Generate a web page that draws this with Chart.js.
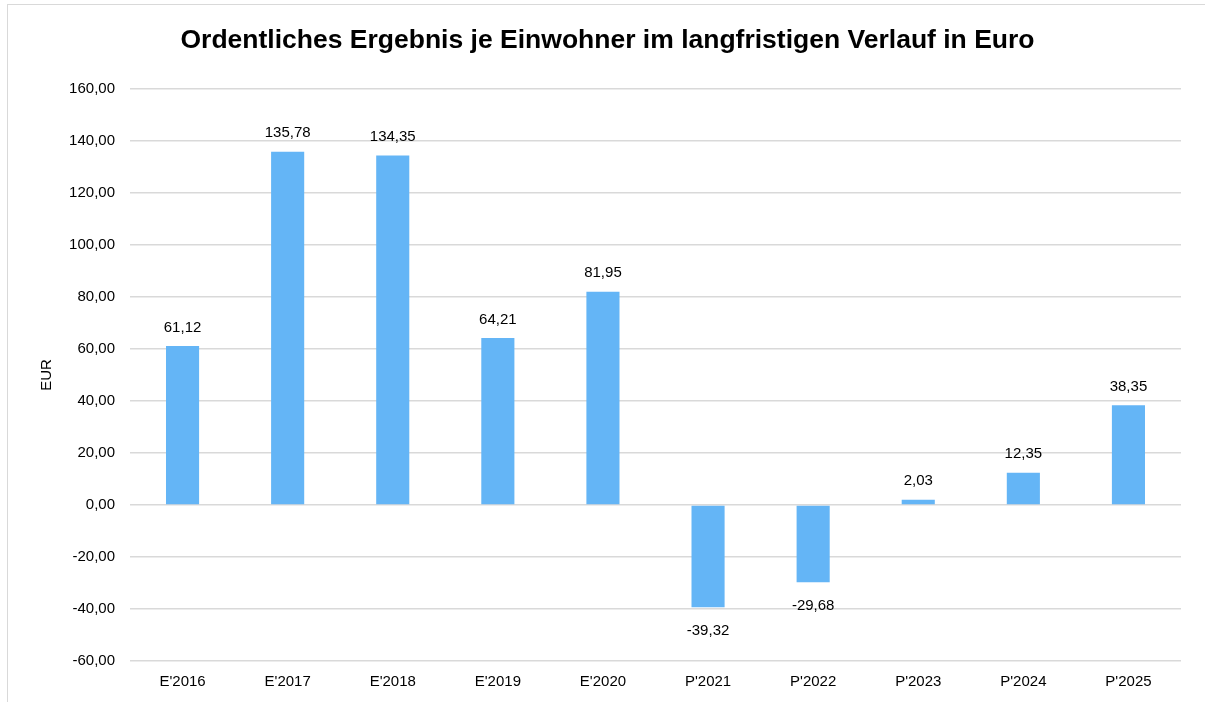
<!DOCTYPE html>
<html>
<head>
<meta charset="utf-8">
<script src="https://cdn.jsdelivr.net/npm/chart.js@4/dist/chart.umd.min.js"></script>
<style>
  html, body { margin: 0; padding: 0; background: #ffffff; overflow: hidden; }
  #frame { position: absolute; left: 7px; top: 4px; width: 1400px; height: 900px; border: 1px solid #d9d9d9; box-sizing: border-box; }
  #wrap { position: absolute; left: 0; top: 0; width: 1205px; height: 702px; }
</style>
</head>
<body>
<div id="frame"></div>
<div id="wrap"><canvas id="c" width="1205" height="702"></canvas></div>
<script>
const categories = ["E'2016", "E'2017", "E'2018", "E'2019", "E'2020", "P'2021", "P'2022", "P'2023", "P'2024", "P'2025"];
const values = [61.12, 135.78, 134.35, 64.21, 81.95, -39.32, -29.68, 2.03, 12.35, 38.35];
const titleText = "Ordentliches Ergebnis je Einwohner im langfristigen Verlauf in Euro";
const axisTitle = "EUR";
const yMin = -60, yMax = 160, yStep = 20;

function fmt(v) {
  return v.toFixed(2).replace('.', ',');
}

const FONT = "'Liberation Sans', Arial, sans-serif";

const valueLabels = {
  id: 'valueLabels',
  afterDatasetsDraw(chart) {
    const ctx = chart.ctx;
    const meta = chart.getDatasetMeta(0);
    ctx.save();
    ctx.font = "15px " + FONT;
    ctx.fillStyle = '#000000';
    ctx.textAlign = 'center';
    meta.data.forEach((bar, i) => {
      const v = values[i];
      if (v >= 0) {
        ctx.textBaseline = 'bottom';
        ctx.fillText(fmt(v), bar.x, bar.y - 11);
      } else {
        ctx.textBaseline = 'top';
        ctx.fillText(fmt(v), bar.x, bar.y + 16);
      }
    });
    ctx.restore();
  }
};

new Chart(document.getElementById('c'), {
  type: 'bar',
  data: {
    labels: categories,
    datasets: [{
      data: values,
      backgroundColor: '#64B5F6',
      borderWidth: 0,
      categoryPercentage: 1.0,
      barPercentage: 0.315
    }]
  },
  options: {
    responsive: false,
    animation: false,
    devicePixelRatio: 1,
    layout: { padding: { top: 10, right: 24, bottom: 0, left: 34 } },
    plugins: {
      legend: { display: false },
      tooltip: { enabled: false },
      title: {
        display: true,
        text: titleText,
        color: '#000000',
        font: { family: FONT, size: 26.5, weight: 'bold' },
        padding: { top: 15, bottom: 32 }
      }
    },
    scales: {
      x: {
        grid: { display: false, drawTicks: false },
        border: { display: false },
        ticks: {
          color: '#000000',
          font: { family: FONT, size: 15 },
          padding: 12,
          maxRotation: 0,
          autoSkip: false
        },
        afterFit(scale) { scale.height = 702 - 661; }
      },
      y: {
        min: yMin,
        max: yMax,
        grid: { color: '#d9d9d9', lineWidth: 1.5, drawTicks: false },
        border: { display: false },
        ticks: {
          stepSize: yStep,
          color: '#000000',
          font: { family: FONT, size: 15 },
          padding: 15,
          callback: (v) => fmt(v)
        },
        title: {
          display: true,
          text: axisTitle,
          color: '#000000',
          font: { family: FONT, size: 15 },
          padding: { top: 4, bottom: 0 }
        },
        afterFit(scale) { scale.width = 130 - 34; }
      }
    }
  },
  plugins: [valueLabels]
});
</script>
</body>
</html>
